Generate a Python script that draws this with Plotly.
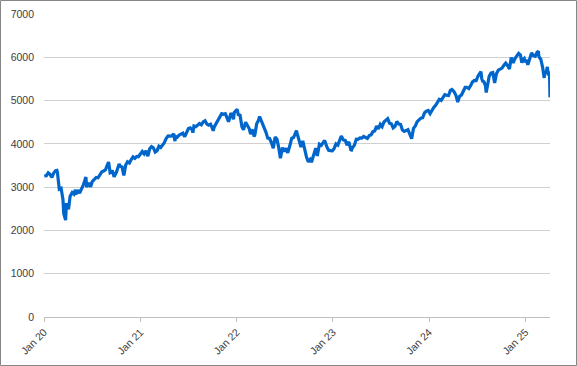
import plotly.graph_objects as go

# S&P 500 closes (weekly, plus some daily extremes) read/estimated from chart
d2020 = ["2020-01-02","2020-01-10","2020-01-17","2020-01-24","2020-01-31","2020-02-07","2020-02-14","2020-02-19","2020-02-21","2020-02-28",
         "2020-03-06","2020-03-13","2020-03-16","2020-03-20","2020-03-23","2020-03-26","2020-04-03","2020-04-09","2020-04-17","2020-04-24",
         "2020-04-29","2020-05-01","2020-05-08","2020-05-15","2020-05-22","2020-05-29","2020-06-08","2020-06-11","2020-06-19","2020-06-26",
         "2020-07-02","2020-07-10","2020-07-17","2020-07-24","2020-07-31","2020-08-07","2020-08-14","2020-08-21","2020-08-28","2020-09-02",
         "2020-09-08","2020-09-11","2020-09-16","2020-09-23","2020-10-02","2020-10-12","2020-10-16","2020-10-23","2020-10-30","2020-11-06",
         "2020-11-13","2020-11-20","2020-11-27","2020-12-04","2020-12-11","2020-12-18","2020-12-24","2020-12-31"]
v2020 = [3257.85,3265.35,3329.62,3295.47,3225.52,3327.71,3380.16,3386.15,3337.75,2954.22,
         2972.37,2711.02,2386.13,2304.92,2237.40,2630.07,2488.65,2789.82,2874.56,2836.74,
         2939.51,2830.71,2929.80,2863.70,2955.45,3044.31,3232.39,3002.10,3097.74,3009.05,
         3130.01,3185.04,3224.73,3215.63,3271.12,3351.28,3372.85,3397.16,3508.01,3580.84,
         3331.84,3340.97,3385.49,3236.92,3348.44,3534.22,3483.81,3465.39,3269.96,3509.44,
         3585.15,3557.54,3638.35,3699.12,3663.46,3709.41,3703.06,3756.07]

d2021 = ["2021-01-08","2021-01-15","2021-01-22","2021-01-29","2021-02-05","2021-02-12","2021-02-19","2021-02-26","2021-03-05","2021-03-12",
         "2021-03-19","2021-03-26","2021-04-01","2021-04-09","2021-04-16","2021-04-23","2021-04-30","2021-05-07","2021-05-12","2021-05-14",
         "2021-05-21","2021-05-28","2021-06-04","2021-06-11","2021-06-18","2021-06-25","2021-07-02","2021-07-09","2021-07-16","2021-07-19",
         "2021-07-23","2021-07-30","2021-08-06","2021-08-13","2021-08-20","2021-08-27","2021-09-03","2021-09-10","2021-09-17","2021-09-24",
         "2021-10-01","2021-10-04","2021-10-08","2021-10-15","2021-10-22","2021-10-29","2021-11-05","2021-11-12","2021-11-19","2021-11-26",
         "2021-12-01","2021-12-03","2021-12-10","2021-12-17","2021-12-20","2021-12-23","2021-12-31"]
v2021 = [3824.68,3768.25,3841.47,3714.24,3886.83,3934.83,3906.71,3811.15,3841.94,3943.34,
         3913.10,3974.54,4019.87,4128.80,4185.47,4180.17,4181.17,4232.60,4063.04,4173.85,
         4155.86,4204.11,4229.89,4247.44,4166.45,4280.70,4352.34,4369.55,4327.16,4258.49,
         4411.79,4395.26,4436.52,4468.00,4441.67,4509.37,4535.43,4458.58,4432.99,4455.48,
         4357.04,4300.46,4391.34,4471.37,4544.90,4605.38,4697.53,4682.85,4697.96,4594.62,
         4513.04,4538.43,4712.02,4620.64,4568.02,4725.79,4766.18]

d2022 = ["2022-01-03","2022-01-07","2022-01-14","2022-01-21","2022-01-27","2022-02-04","2022-02-11","2022-02-18","2022-02-23","2022-03-04",
         "2022-03-08","2022-03-11","2022-03-18","2022-03-25","2022-03-29","2022-04-08","2022-04-14","2022-04-22","2022-04-29","2022-05-06",
         "2022-05-13","2022-05-20","2022-05-27","2022-06-03","2022-06-10","2022-06-16","2022-06-24","2022-07-01","2022-07-08","2022-07-14",
         "2022-07-22","2022-07-29","2022-08-05","2022-08-12","2022-08-16","2022-08-19","2022-08-26","2022-09-02","2022-09-09","2022-09-16",
         "2022-09-23","2022-09-30","2022-10-07","2022-10-12","2022-10-21","2022-10-28","2022-11-03","2022-11-11","2022-11-18","2022-11-25",
         "2022-12-01","2022-12-09","2022-12-16","2022-12-23","2022-12-30"]
v2022 = [4796.56,4677.03,4662.85,4397.94,4326.51,4500.53,4418.64,4348.87,4225.50,4328.87,
         4170.70,4204.31,4463.12,4543.06,4631.60,4488.28,4392.59,4271.78,4131.93,4123.34,
         4023.89,3901.36,4158.24,4108.54,3900.86,3666.77,3911.74,3825.33,3899.38,3790.38,
         3961.63,4130.29,4145.19,4280.15,4305.20,4228.48,4057.66,3924.26,4067.36,3873.33,
         3693.23,3585.62,3639.66,3577.03,3752.75,3901.06,3719.89,3992.93,3965.34,4026.12,
         4080.11,3934.38,3852.36,3844.82,3839.50]

d2023 = ["2023-01-06","2023-01-13","2023-01-20","2023-01-27","2023-02-02","2023-02-10","2023-02-17","2023-02-24","2023-03-03","2023-03-10",
         "2023-03-13","2023-03-17","2023-03-24","2023-03-31","2023-04-06","2023-04-14","2023-04-21","2023-04-28","2023-05-05","2023-05-12",
         "2023-05-19","2023-05-26","2023-06-02","2023-06-09","2023-06-16","2023-06-23","2023-06-30","2023-07-07","2023-07-14","2023-07-21",
         "2023-07-28","2023-08-04","2023-08-11","2023-08-18","2023-08-25","2023-09-01","2023-09-08","2023-09-15","2023-09-22","2023-09-29",
         "2023-10-06","2023-10-13","2023-10-20","2023-10-27","2023-11-03","2023-11-10","2023-11-17","2023-11-24","2023-12-01","2023-12-08",
         "2023-12-15","2023-12-22","2023-12-29"]
v2023 = [3895.08,3999.09,3972.61,4070.56,4179.76,4090.46,4079.09,3970.04,4045.64,3861.59,
         3855.76,3916.64,3970.99,4109.31,4105.02,4137.64,4133.52,4169.48,4136.25,4124.08,
         4191.98,4205.45,4282.37,4298.86,4409.59,4348.33,4450.38,4398.95,4505.42,4536.34,
         4582.23,4478.03,4464.05,4369.71,4405.71,4515.77,4457.49,4450.32,4320.06,4288.05,
         4308.50,4327.78,4224.16,4117.37,4358.34,4415.24,4514.02,4559.34,4594.63,4604.37,
         4719.19,4754.63,4769.83]

d2024 = ["2024-01-05","2024-01-12","2024-01-19","2024-01-26","2024-02-02","2024-02-09","2024-02-16","2024-02-23","2024-03-01","2024-03-08",
         "2024-03-15","2024-03-22","2024-03-28","2024-04-05","2024-04-12","2024-04-19","2024-04-26","2024-05-03","2024-05-10","2024-05-17",
         "2024-05-24","2024-05-31","2024-06-07","2024-06-14","2024-06-21","2024-06-28","2024-07-05","2024-07-12","2024-07-16","2024-07-19",
         "2024-07-24","2024-07-26","2024-08-02","2024-08-05","2024-08-09","2024-08-16","2024-08-23","2024-08-30","2024-09-06","2024-09-13",
         "2024-09-20","2024-09-27","2024-10-04","2024-10-11","2024-10-18","2024-10-25","2024-11-01","2024-11-08","2024-11-15","2024-11-22",
         "2024-11-29","2024-12-06","2024-12-13","2024-12-18","2024-12-20","2024-12-27","2024-12-31"]
v2024 = [4697.24,4783.83,4839.81,4890.97,4958.61,5026.61,5005.57,5088.80,5137.08,5123.69,
         5117.09,5234.18,5254.35,5204.34,5123.41,4967.23,5099.96,5127.79,5222.68,5303.27,
         5304.72,5277.51,5346.99,5431.60,5464.62,5460.48,5567.19,5615.35,5667.20,5505.00,
         5427.13,5459.10,5346.56,5186.33,5344.16,5554.25,5634.61,5648.40,5408.42,5626.02,
         5702.55,5738.17,5751.07,5815.03,5864.67,5808.12,5728.80,5995.54,5870.62,5969.34,
         6032.38,6090.27,6051.09,5872.16,5930.85,5970.84,5881.63]

d2025 = ["2025-01-03","2025-01-10","2025-01-17","2025-01-24","2025-01-31","2025-02-07","2025-02-14","2025-02-19","2025-02-21","2025-02-28",
         "2025-03-07","2025-03-13","2025-03-14","2025-03-21","2025-03-25","2025-03-28","2025-04-02","2025-04-03","2025-04-04"]
v2025 = [5942.47,5827.04,5996.66,6101.24,6040.53,6025.99,6114.63,6144.15,6013.13,5954.50,
         5770.20,5521.52,5638.94,5667.56,5776.65,5580.94,5670.97,5396.52,5074.08]

dates = d2020 + d2021 + d2022 + d2023 + d2024 + d2025
values = v2020 + v2021 + v2022 + v2023 + v2024 + v2025

tick_dates = ["2020-01-01", "2021-01-01", "2022-01-01", "2023-01-01", "2024-01-01", "2025-01-01"]
tick_labels = ["Jan 20", "Jan 21", "Jan 22", "Jan 23", "Jan 24", "Jan 25"]
y_ticks = [0, 1000, 2000, 3000, 4000, 5000, 6000, 7000]

fig = go.Figure()
fig.add_trace(go.Scatter(x=dates, y=values, mode="lines",
                         line=dict(color="#0066CC", width=3.2), hoverinfo="skip"))

W, H = 577, 366
L, R, T, B = 44, 27, 14, 49
pw, ph = W - L - R, H - T - B

fig.update_layout(
    width=W, height=H,
    margin=dict(l=L, r=R, t=T, b=B, autoexpand=False),
    paper_bgcolor="white", plot_bgcolor="white",
    showlegend=False,
    font=dict(family="Liberation Sans, Arial, sans-serif", size=10.5, color="#404040"),
    xaxis=dict(type="date", range=["2020-01-01", "2025-04-04"], automargin=False,
               tickvals=tick_dates, ticktext=tick_labels, tickangle=-45,
               showgrid=False, zeroline=False, showline=True, linecolor="#BFBFBF", linewidth=1,
               ticks="outside", ticklen=4, tickcolor="#BFBFBF"),
    yaxis=dict(range=[0, 7000], tickvals=y_ticks, showgrid=True, gridcolor="#D0D0D0", gridwidth=1,
               automargin=False, zeroline=False, showline=False, ticks="", ticklabelstandoff=9),
    shapes=[dict(type="rect", xref="paper", yref="paper",
                 x0=(0.5 - L) / pw, x1=(W - 0.5 - L) / pw,
                 y0=1 - (H - 0.5 - T) / ph, y1=1 - (0.5 - T) / ph,
                 line=dict(color="#868686", width=1))],
)

fig.write_html("out.html", config={"displayModeBar": False},
               post_script="document.body.style.margin='0';document.body.style.overflow='hidden';")
